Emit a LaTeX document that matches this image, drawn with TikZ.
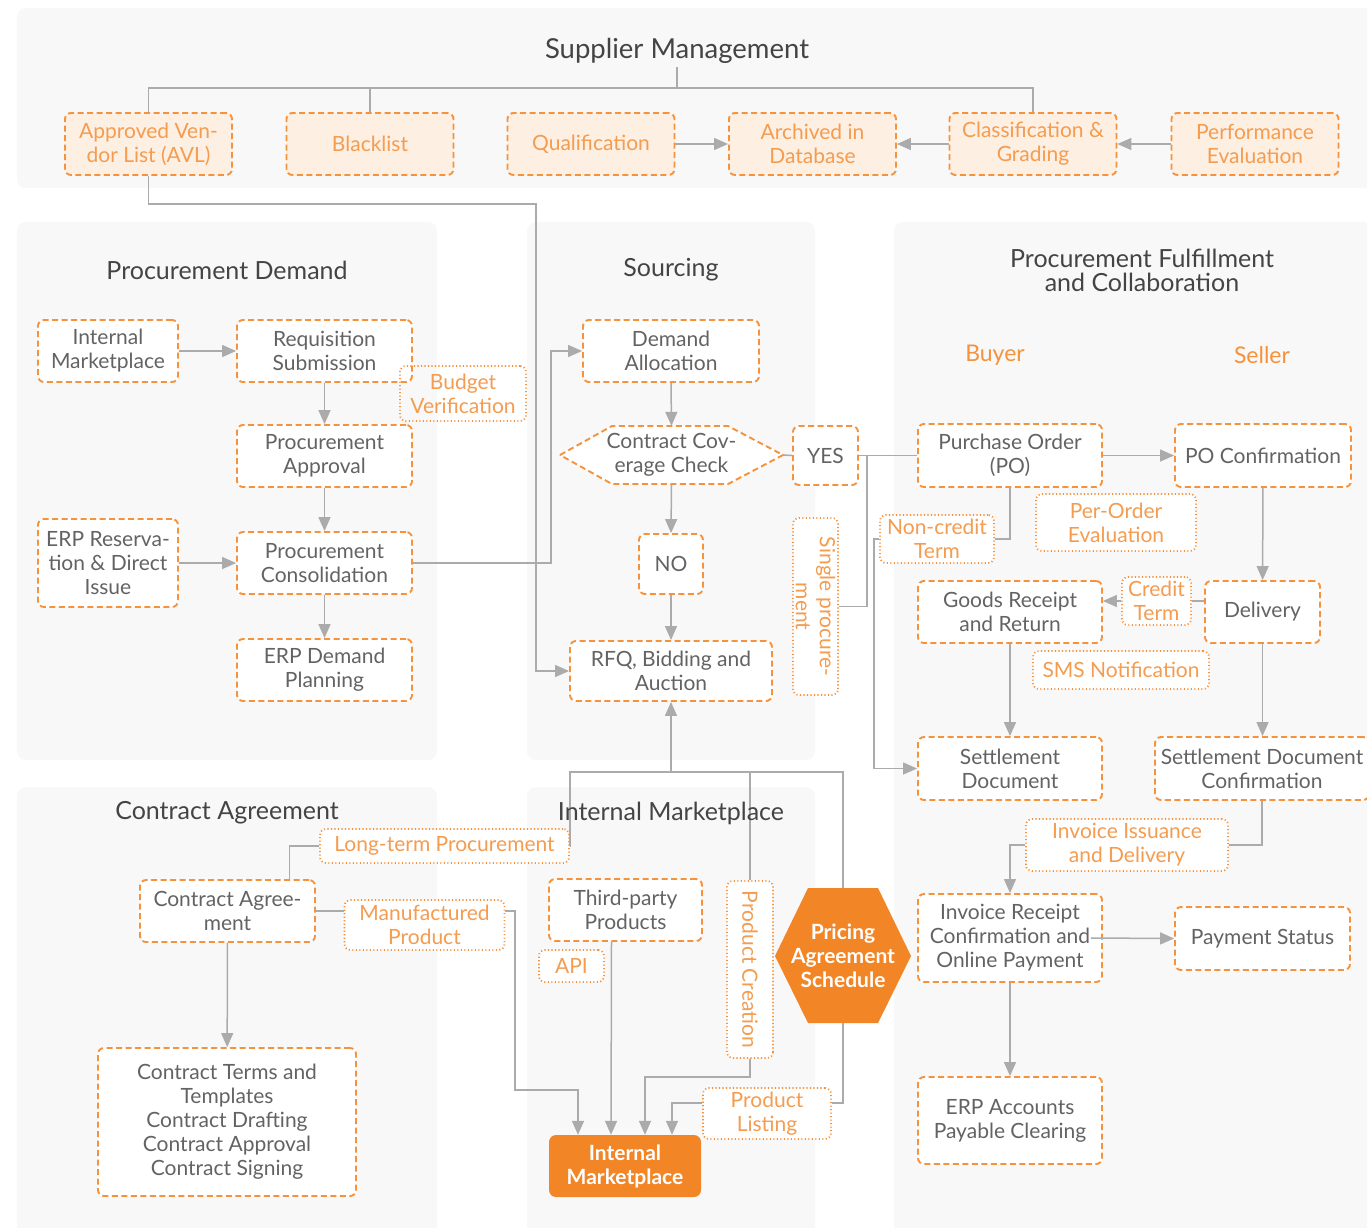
\documentclass[tikz,border=0pt]{standalone}
\usepackage{fontspec}
\setmainfont{Lato}
\usetikzlibrary{arrows.meta,calc}
\definecolor{panelgray}{HTML}{F8F8F8}
\definecolor{orgline}{HTML}{F6923C}
\definecolor{orgtext}{HTML}{F49C50}
\definecolor{supfill}{HTML}{FDEFE2}
\definecolor{orgfill}{HTML}{F28526}
\definecolor{txtgray}{HTML}{636363}
\definecolor{ttlgray}{HTML}{444444}
\definecolor{lngray}{HTML}{ABABAB}
\newcommand\nodefont{\fontsize{21}{24}\selectfont}
\newcommand\ttlfont{\fontsize{25}{24}\selectfont}
\begin{document}
\begin{tikzpicture}[x=1pt,y=-1pt,
  panel/.style={fill=panelgray, rounded corners=9pt},
  box/.style={draw=orgline, line width=1.9pt, dash pattern=on 6pt off 3.5pt,
    rounded corners=6pt, fill=white, text=txtgray, align=center,
    font=\nodefont, inner sep=0pt},
  supbox/.style={box, fill=supfill, text=orgtext, minimum width=167, minimum height=62},
  note/.style={draw=orgline, line width=1.8pt, dash pattern=on 1.1pt off 2.4pt,
    rounded corners=6pt, fill=white, text=orgtext, align=center,
    font=\nodefont, inner sep=0pt},
  solid box/.style={fill=orgfill, rounded corners=7pt, text=white, align=center,
    font=\nodefont\bfseries, inner sep=0pt},
  ttl/.style={text=ttlgray, font=\ttlfont, align=center},
  side/.style={text=orgline, font=\fontsize{23}{24}\selectfont},
  conn/.style={draw=lngray, line width=1.5pt},
  arr/.style={conn, -{Triangle[length=14pt,width=12pt]}}
]
\useasboundingbox (0,0) rectangle (1367,1227);
\fill[white] (0,0) rectangle (1367,1227);

% section panels
\fill[panel] (17,8) rectangle (1390,188);
\fill[panel] (17,222) rectangle (437,760);
\fill[panel] (527,222) rectangle (815,760);
\fill[panel] (894,222) rectangle (1390,1240);
\fill[panel] (17,787) rectangle (437,1240);
\fill[panel] (527,787) rectangle (815,1240);

% section titles
\node[ttl, font=\fontsize{27.5}{26}\selectfont] (smt) at (677,51) {Supplier Management};
\node[ttl] (pdt) at (227,270) {Procurement Demand};
\node[ttl] (srt) at (671,270) {Sourcing};
\node[ttl] (pft) at (1142,270) {Procurement Fulfillment\\and Collaboration};
\node[ttl] (cat) at (227,813) {Contract Agreement};
\node[side] (buyer) at (995,355) {Buyer};
\node[side] (seller) at (1262,355) {Seller};

% supplier management
\node[supbox] (avl) at (148.5,144) {Approved Ven-\\dor List (AVL)};
\node[supbox] (bl) at (370,144) {Blacklist};
\node[supbox] (qual) at (591,144) {Qualification};
\node[supbox] (arch) at (812.5,144) {Archived in\\Database};
\node[supbox] (cls) at (1033,144) {Classification \&\\Grading};
\node[supbox] (perf) at (1255,144) {Performance\\Evaluation};

% procurement demand
\node[box, minimum width=140, minimum height=62] (pdim) at (108,351) {Internal\\Marketplace};
\node[box, minimum width=175, minimum height=62] (req) at (324.5,351) {Requisition\\Submission};
\node[note, fill=none, minimum width=126, minimum height=55] (budget) at (463,393.5) {Budget\\Verification};
\node[box, minimum width=175, minimum height=62] (appr) at (324.5,456) {Procurement\\Approval};
\node[box, minimum width=140, minimum height=88] (erpres) at (108,563) {ERP Reserva-\\tion \& Direct\\Issue};
\node[box, minimum width=175, minimum height=62] (cons) at (324.5,563) {Procurement\\Consolidation};
\node[box, minimum width=175, minimum height=62] (erpdp) at (324.5,670) {ERP Demand\\Planning};

% sourcing
\node[box, minimum width=176, minimum height=62] (da) at (671,351) {Demand\\Allocation};
\draw[draw=orgline, line width=1.9pt, dash pattern=on 6pt off 3.5pt, fill=white]
  (560,455) -- (612,426) -- (728,426) -- (783,455) -- (728,484) -- (612,484) -- cycle;
\node[text=txtgray, font=\nodefont, align=center, inner sep=0pt,
  minimum width=223, minimum height=58] (ccc) at (671.5,455) {Contract Cov-\\erage Check};
\node[box, minimum width=65, minimum height=59] (yes) at (825.5,455.5) {YES};
\node[box, minimum width=64, minimum height=60] (no) at (671,564) {NO};
\node[box, minimum width=202, minimum height=60] (rfq) at (671,671) {RFQ, Bidding and\\Auction};
\node[note, rotate=-90, minimum width=177, minimum height=45] (single) at (815.5,606.5) {Single procure-\\ment};

% fulfillment
\node[box, minimum width=184, minimum height=63] (po) at (1010,455.5) {Purchase Order\\(PO)};
\node[box, minimum width=176, minimum height=63] (poc) at (1263,455.5) {PO Confirmation};
\node[note, minimum width=160, minimum height=57] (poe) at (1116,522.5) {Per-Order\\Evaluation};
\node[note, minimum width=114, minimum height=48] (ncterm) at (937,539) {Non-credit\\Term};
\node[box, minimum width=184, minimum height=62] (grr) at (1010,612) {Goods Receipt\\and Return};
\node[note, minimum width=69, minimum height=48] (credit) at (1156.5,601) {Credit\\Term};
\node[box, minimum width=115, minimum height=62] (deliv) at (1262.5,612) {Delivery};
\node[note, minimum width=176, minimum height=38] (sms) at (1121,670) {SMS Notification};
\node[box, minimum width=184, minimum height=63] (sd) at (1010,768.5) {Settlement\\Document};
\node[box, minimum width=214, minimum height=63] (sdc) at (1262,768.5) {Settlement Document\\Confirmation};
\node[note, minimum width=202, minimum height=52] (inv) at (1127,845) {Invoice Issuance\\and Delivery};
\node[box, minimum width=184, minimum height=88] (irc) at (1010,938) {Invoice Receipt\\Confirmation and\\Online Payment};
\node[box, minimum width=175, minimum height=63] (ps) at (1262.5,938.5) {Payment Status};
\node[box, minimum width=184, minimum height=87] (erpap) at (1010,1120.5) {ERP Accounts\\Payable Clearing};

% contract agreement
\node[box, minimum width=175, minimum height=62] (ca) at (227.5,911) {Contract Agree-\\ment};
\node[note, minimum width=249, minimum height=34] (ltp) at (444.5,846) {Long-term Procurement};
\node[note, minimum width=160, minimum height=50] (mp) at (424.5,925) {Manufactured\\Product};
\node[box, minimum width=258, minimum height=148] (terms) at (227,1122)
  {Contract Terms and\\Templates\\Contract Drafting\\Contract Approval\\Contract Signing};

% internal marketplace
\node[box, minimum width=153, minimum height=62] (tpp) at (625.5,910) {Third-party\\Products};
\node[note, minimum width=65, minimum height=32] (api) at (571.5,966) {API};
\node[note, rotate=-90, minimum width=177, minimum height=46] (pc) at (750,969.5) {Product Creation};
\fill[orgfill] (775,956) -- (808,888) -- (878,888) -- (911,956) -- (878,1023) -- (808,1023) -- cycle;
\node[text=white, font=\nodefont\bfseries, align=center, inner sep=0pt,
  minimum width=136, minimum height=135] (pas) at (843,955.5) {Pricing\\Agreement\\Schedule};
\node[note, minimum width=128, minimum height=51] (pl) at (767,1113.5) {Product\\Listing};
\node[solid box, minimum width=152, minimum height=62] (imk) at (625,1166) {Internal\\Marketplace};

% supplier management connectors
\coordinate (sj) at (677,88);
\draw[conn] (smt.south) -- (sj);
\draw[conn] (avl.north) |- (sj) -| (cls.north);
\draw[conn] (bl.north) -- (bl.north |- sj);
\draw[arr] (qual) -- (arch);
\draw[arr] (cls) -- (arch);
\draw[arr] (perf) -- (cls);
\coordinate (avlj) at (536,204);
\draw[arr] (avl.south) |- (avlj) |- (rfq.west);

% procurement demand connectors
\draw[arr] (pdim) -- (req);
\draw[arr] (req) -- (appr);
\draw[arr] (appr) -- (cons);
\draw[arr] (erpres) -- (cons);
\draw[arr] (cons) -- (erpdp);
\coordinate (cdj) at (551,563);
\draw[arr] (cons.east) -- (cdj) |- (da.west);

% sourcing connectors
\draw[arr] (da.south) -- (ccc.north);
\draw[arr] (ccc.south) -- (no.north);
\draw[arr] (no) -- (rfq);
\draw[conn] (ccc.east) -- (yes.west);
\draw[conn] (yes.east) -- (po.west);
\coordinate (ysplit) at (867,455.5);
\draw[conn] (ysplit) |- (single.north);

% fulfillment connectors
\draw[arr] (po) -- (poc);
\draw[conn] (po.south) |- (ncterm.east);
\coordinate (ncj) at (874,539);
\draw[arr] (ncterm.west) -- (ncj) |- (sd.west);
\draw[arr] (poc) -- (deliv);
\draw[conn] (credit.east) -- (credit.east -| deliv.west);
\draw[arr] (credit.west) -- (credit.west -| grr.east);
\draw[arr] (grr) -- (sd);
\draw[arr] (deliv.south) -- (deliv.south |- sdc.north);
\draw[conn] (sdc.south) |- (inv.east);
\draw[arr] (inv.west) -| (irc.north);
\draw[arr] ([xshift=-12pt]irc.east) -- (ps.west);
\draw[arr] (irc) -- (erpap);

% contract agreement connectors
\draw[arr] (ca) -- (terms);
\draw[conn] (ltp.west) -| ([xshift=62pt]ca.north);
\draw[conn] (ca.east) -- (ca.east -| mp.west);
\coordinate (mpa) at (515,1090);
\draw[arr] (ca.east -| mp.east) -| (mpa) -| ([xshift=-47pt]imk.north);

% internal marketplace connectors
\coordinate (hl) at (570,772);
\coordinate (hr) at (843,772);
\draw[conn] (ltp.east) -| (hl) -- (hr) -- (pas.north);
\draw[arr] (rfq.south |- hl) -- (rfq.south);
\draw[conn] (pc.west |- hl) -- (pc.west);
\coordinate (pcj) at (750,1077);
\draw[arr] (pc.east) -- (pcj) -| ([xshift=20pt]imk.north);
\coordinate (plj) at (843,1103);
\draw[conn] (pas.south) -- (plj) -- (plj -| pl.east);
\draw[arr] (plj -| pl.west) -| ([xshift=47pt]imk.north);
\draw[arr] ([xshift=-14pt]tpp.south) -- ([xshift=-14pt]imk.north);

\node[ttl] (imt) at (671,813) {Internal Marketplace};
\end{tikzpicture}
\end{document}
